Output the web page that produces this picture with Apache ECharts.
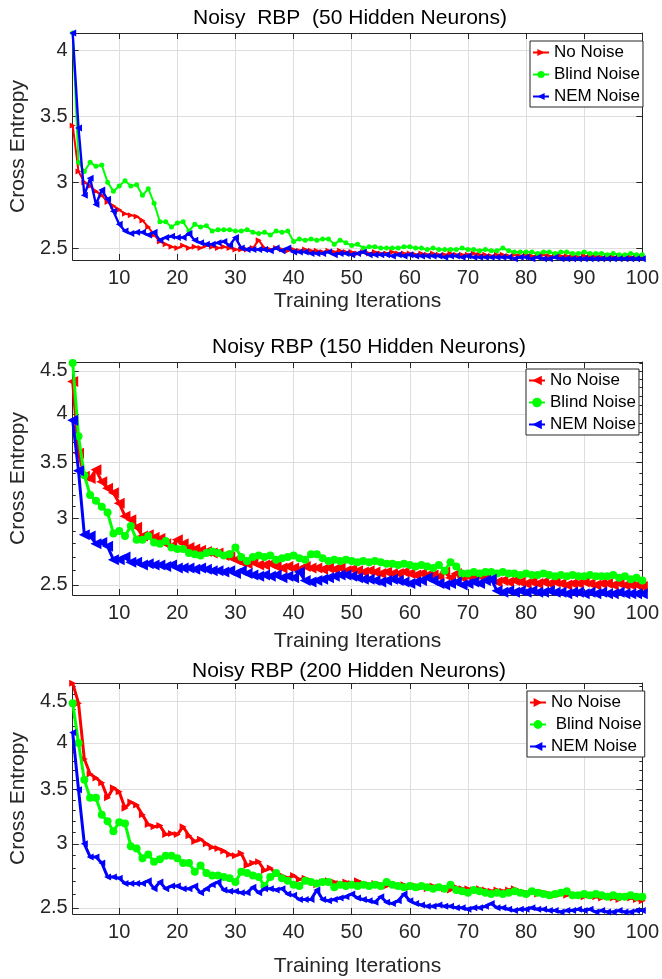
<!DOCTYPE html>
<html><head><meta charset="utf-8">
<script src="https://cdn.jsdelivr.net/npm/echarts@6/dist/echarts.min.js"></script>
<style>html,body{margin:0;padding:0;background:#fff}#c{width:662px;height:979px}</style>
</head><body><div id="c"></div><script>
// ---------- data ----------
const iterations = Array.from({length: 99}, (_, i) => i + 2); // training iterations 2..100

const noNoise50 = [3.43,3.08,3.00,2.97,2.93,2.90,2.85,2.82,2.79,2.76,
 2.75,2.74,2.71,2.66,2.60,2.55,2.53,2.51,2.50,2.52,
 2.50,2.51,2.50,2.52,2.51,2.50,2.51,2.50,2.49,2.49,
 2.49,2.50,2.56,2.50,2.49,2.50,2.49,2.48,2.49,2.48,
 2.49,2.48,2.48,2.47,2.48,2.47,2.48,2.47,2.47,2.46,
 2.47,2.46,2.47,2.46,2.46,2.47,2.46,2.46,2.46,2.45,
 2.46,2.45,2.46,2.45,2.45,2.46,2.45,2.45,2.45,2.46,
 2.45,2.45,2.44,2.45,2.45,2.44,2.45,2.44,2.45,2.44,
 2.44,2.45,2.44,2.44,2.44,2.44,2.44,2.43,2.44,2.44,
 2.44,2.43,2.44,2.43,2.44,2.43,2.43,2.43,2.43];
const blindNoise50 = [4.13,3.15,3.08,3.15,3.12,3.13,3.00,2.93,2.97,3.01,
 2.97,2.98,2.90,2.95,2.84,2.70,2.70,2.66,2.69,2.70,
 2.63,2.68,2.66,2.67,2.63,2.64,2.64,2.64,2.63,2.63,
 2.64,2.62,2.61,2.62,2.60,2.63,2.62,2.63,2.55,2.57,
 2.56,2.57,2.56,2.57,2.57,2.53,2.56,2.54,2.52,2.53,
 2.50,2.51,2.51,2.50,2.50,2.50,2.50,2.51,2.51,2.50,
 2.50,2.49,2.50,2.49,2.49,2.49,2.49,2.50,2.49,2.49,
 2.48,2.49,2.48,2.48,2.50,2.48,2.47,2.47,2.47,2.47,
 2.46,2.47,2.47,2.46,2.47,2.47,2.46,2.46,2.47,2.46,
 2.46,2.46,2.45,2.46,2.45,2.45,2.46,2.45,2.45];
const nemNoise50 = [4.13,3.41,2.90,3.03,2.83,2.94,2.87,2.78,2.68,2.63,
 2.61,2.62,2.62,2.60,2.62,2.56,2.58,2.59,2.58,2.58,
 2.61,2.56,2.54,2.53,2.53,2.54,2.55,2.52,2.58,2.50,
 2.49,2.49,2.49,2.49,2.48,2.50,2.48,2.50,2.47,2.47,
 2.47,2.46,2.46,2.46,2.47,2.45,2.46,2.46,2.45,2.46,
 2.47,2.45,2.45,2.45,2.45,2.44,2.45,2.44,2.45,2.44,
 2.44,2.44,2.44,2.44,2.43,2.44,2.44,2.43,2.44,2.43,
 2.43,2.43,2.43,2.43,2.43,2.43,2.42,2.43,2.43,2.42,
 2.43,2.42,2.42,2.43,2.42,2.42,2.42,2.42,2.42,2.42,
 2.42,2.42,2.42,2.42,2.42,2.42,2.42,2.42,2.42];

const noNoise150 = [4.37,3.59,3.37,3.35,3.43,3.32,3.26,3.22,3.13,3.02,
 2.99,2.93,2.86,2.87,2.85,2.84,2.80,2.78,2.83,2.80,
 2.77,2.76,2.75,2.74,2.73,2.73,2.71,2.70,2.68,2.66,
 2.65,2.66,2.64,2.64,2.65,2.63,2.62,2.63,2.62,2.61,
 2.63,2.62,2.62,2.61,2.62,2.61,2.62,2.60,2.61,2.60,
 2.59,2.60,2.59,2.58,2.59,2.58,2.58,2.59,2.58,2.57,
 2.58,2.57,2.57,2.56,2.59,2.55,2.58,2.55,2.56,2.55,
 2.56,2.55,2.54,2.52,2.53,2.52,2.53,2.52,2.51,2.52,
 2.51,2.52,2.51,2.52,2.51,2.50,2.51,2.51,2.52,2.51,
 2.50,2.51,2.51,2.50,2.51,2.50,2.50,2.50,2.49];
const blindNoise150 = [4.60,3.76,3.38,3.20,3.15,3.10,3.05,2.88,2.90,2.86,
 2.94,2.83,2.83,2.86,2.81,2.80,2.82,2.77,2.76,2.76,
 2.73,2.72,2.71,2.73,2.74,2.73,2.71,2.72,2.77,2.70,
 2.67,2.70,2.71,2.70,2.71,2.68,2.69,2.70,2.71,2.69,
 2.68,2.72,2.72,2.69,2.67,2.68,2.67,2.68,2.67,2.66,
 2.67,2.66,2.67,2.66,2.65,2.65,2.64,2.65,2.64,2.63,
 2.64,2.63,2.62,2.64,2.60,2.66,2.63,2.58,2.58,2.59,
 2.58,2.59,2.59,2.58,2.59,2.58,2.58,2.57,2.58,2.57,
 2.57,2.58,2.57,2.56,2.57,2.56,2.57,2.56,2.56,2.57,
 2.56,2.56,2.56,2.57,2.55,2.56,2.54,2.55,2.53];
const nemNoise150 = [3.93,3.42,2.87,2.86,2.80,2.81,2.78,2.68,2.68,2.70,
 2.66,2.66,2.64,2.65,2.64,2.64,2.63,2.64,2.62,2.62,
 2.62,2.61,2.62,2.61,2.60,2.60,2.59,2.60,2.58,2.60,
 2.58,2.57,2.56,2.57,2.56,2.57,2.55,2.56,2.55,2.59,
 2.53,2.52,2.53,2.54,2.55,2.56,2.57,2.57,2.56,2.55,
 2.54,2.54,2.53,2.52,2.53,2.54,2.53,2.52,2.51,2.52,
 2.53,2.55,2.53,2.51,2.50,2.51,2.52,2.50,2.51,2.52,
 2.51,2.53,2.54,2.46,2.45,2.46,2.45,2.46,2.45,2.46,
 2.45,2.45,2.46,2.45,2.45,2.44,2.45,2.45,2.44,2.45,
 2.44,2.45,2.44,2.44,2.45,2.44,2.44,2.44,2.44];

const noNoise200 = [4.74,4.48,3.82,3.66,3.62,3.57,3.42,3.52,3.48,3.32,
 3.38,3.35,3.26,3.17,3.15,3.16,3.08,3.09,3.08,3.15,
 3.07,3.02,3.04,3.00,2.97,2.96,2.94,2.91,2.90,2.92,
 2.82,2.84,2.85,2.78,2.80,2.75,2.74,2.72,2.74,2.71,
 2.72,2.70,2.67,2.69,2.70,2.69,2.68,2.69,2.68,2.70,
 2.68,2.67,2.68,2.67,2.66,2.68,2.66,2.67,2.65,2.66,
 2.65,2.64,2.66,2.65,2.64,2.63,2.65,2.64,2.64,2.63,
 2.64,2.63,2.62,2.63,2.62,2.63,2.64,2.62,2.61,2.61,
 2.60,2.61,2.60,2.59,2.60,2.59,2.60,2.59,2.58,2.59,
 2.58,2.57,2.58,2.57,2.56,2.58,2.57,2.56,2.55];
const blindNoise200 = [4.48,4.00,3.60,3.42,3.42,3.26,3.20,3.11,3.19,3.18,
 2.98,2.96,2.88,2.91,2.85,2.87,2.90,2.90,2.88,2.84,
 2.84,2.77,2.82,2.76,2.74,2.74,2.73,2.72,2.69,2.77,
 2.76,2.74,2.73,2.66,2.73,2.76,2.72,2.70,2.67,2.66,
 2.70,2.69,2.68,2.69,2.69,2.65,2.67,2.66,2.67,2.66,
 2.67,2.66,2.67,2.66,2.69,2.67,2.66,2.65,2.66,2.65,
 2.66,2.65,2.64,2.65,2.64,2.67,2.63,2.62,2.61,2.63,
 2.62,2.61,2.60,2.61,2.60,2.61,2.62,2.61,2.60,2.62,
 2.61,2.60,2.59,2.60,2.61,2.62,2.59,2.59,2.60,2.59,
 2.60,2.59,2.58,2.59,2.58,2.58,2.59,2.58,2.58];
const nemNoise200 = [4.12,3.50,3.00,2.89,2.89,2.84,2.73,2.73,2.72,2.68,
 2.68,2.68,2.68,2.70,2.64,2.69,2.64,2.66,2.66,2.64,
 2.64,2.66,2.61,2.64,2.67,2.69,2.63,2.62,2.62,2.61,
 2.61,2.65,2.61,2.64,2.64,2.63,2.64,2.60,2.59,2.56,
 2.56,2.56,2.63,2.56,2.55,2.56,2.57,2.58,2.60,2.57,
 2.56,2.55,2.54,2.58,2.54,2.53,2.55,2.60,2.55,2.53,
 2.52,2.51,2.51,2.52,2.51,2.51,2.50,2.50,2.49,2.50,
 2.50,2.51,2.53,2.50,2.50,2.49,2.48,2.49,2.49,2.50,
 2.49,2.49,2.48,2.48,2.47,2.48,2.48,2.49,2.48,2.49,
 2.47,2.48,2.47,2.47,2.48,2.47,2.47,2.48,2.48];

const xTickValues = [10,20,30,40,50,60,70,80,90,100];
const yTicks50 = [2.5,3,3.5,4];
const yTicksLog = [2.5,3,3.5,4,4.5];
const yMinorLog = [2.5,2.6,2.7,2.8,2.9,3.0,3.1,3.2,3.3,3.4,3.5,3.6,3.7,3.8,3.9,4.0,4.1,4.2,4.3,4.4,4.5,4.6,4.7];
const titles = ['Noisy  RBP  (50 Hidden Neurons)', 'Noisy RBP (150 Hidden Neurons)', 'Noisy RBP (200 Hidden Neurons)'];
const seriesNames = [
  ['No Noise', 'Blind Noise', 'NEM Noise'],
  ['No Noise ', 'Blind Noise ', 'NEM Noise '],
  ['No Noise  ', ' Blind Noise', 'NEM Noise  ']
];
const seriesValues = [
  [noNoise50, blindNoise50, nemNoise50],
  [noNoise150, blindNoise150, nemNoise150],
  [noNoise200, blindNoise200, nemNoise200]
];
const xAxisName = 'Training Iterations';
const yAxisName = 'Cross Entropy';

// ---------- layout / style ----------
const FONT = 'Liberation Sans, Arial, Helvetica, sans-serif';
const AX = '#262626';
const GRIDC = '#dedede';
const COLORS = ['#ff0000', '#00ff00', '#0000ff'];
const panels = [
  {grid: {left: 64, top: 33, width: 582, height: 227}, log: false, ymin: 2.41, ymax: 4.13, yTicks: yTicks50,
   titleX: 350, titleY: 8, legend: {left: 530, top: 41, ih: 9}, xGap: 31, yGap: 36,
   marks: [{s: 'triangle', r: -90, z: 6, w: 2}, {s: 'circle', r: 0, z: 5, w: 2}, {s: 'triangle', r: 90, z: 7, w: 2.4}]},
  {grid: {left: 71, top: 362, width: 573, height: 233}, log: true, ymin: 2.432, ymax: 4.612, yTicks: yTicksLog,
   titleX: 369, titleY: 337, legend: {left: 526, top: 369, ih: 12}, xGap: 36, yGap: 36,
   marks: [{s: 'triangle', r: 90, z: 11, w: 3}, {s: 'circle', r: 0, z: 8, w: 3}, {s: 'triangle', r: 90, z: 11, w: 3}]},
  {grid: {left: 62, top: 683, width: 586, height: 231}, log: true, ymin: 2.456, ymax: 4.745, yTicks: yTicksLog,
   titleX: 349, titleY: 661, legend: {left: 527, top: 691, ih: 11}, xGap: 42, yGap: 34,
   marks: [{s: 'triangle', r: -90, z: 7, w: 3}, {s: 'circle', r: 0, z: 8, w: 3}, {s: 'triangle', r: 90, z: 7, w: 3}]}
];

const option = {
  animation: false,
  backgroundColor: '#fff',
  title: [], grid: [], xAxis: [], yAxis: [], legend: [], series: []
};

panels.forEach((p, pi) => {
  const tf = p.log ? Math.log : (v => v);
  option.grid.push(Object.assign({containLabel: false}, p.grid));
  option.title.push({
    text: titles[pi], left: p.titleX, top: p.titleY, textAlign: 'center', padding: 0,
    textStyle: {fontFamily: FONT, fontSize: 21, fontWeight: 'normal', color: '#000'}
  });
  const xb = option.xAxis.length;
  const xBase = {type: 'value', gridIndex: pi, min: 2, max: 100};
  option.xAxis.push(Object.assign({}, xBase, {
    position: 'bottom', name: xAxisName, nameLocation: 'middle', nameGap: p.xGap,
    nameTextStyle: {fontFamily: FONT, fontSize: 21, color: AX},
    axisLine: {show: true, onZero: false, lineStyle: {color: AX, width: 1}},
    axisTick: {show: true, inside: true, length: 6, customValues: xTickValues, lineStyle: {color: AX}},
    axisLabel: {show: true, customValues: xTickValues, margin: 8, fontFamily: FONT, fontSize: 20, color: AX},
    splitLine: {show: true, lineStyle: {color: GRIDC, width: 1}}
  }));
  option.xAxis.push(Object.assign({}, xBase, {
    position: 'top',
    axisLine: {show: true, onZero: false, lineStyle: {color: AX, width: 1}},
    axisTick: {show: true, inside: true, length: 6, customValues: xTickValues, lineStyle: {color: AX}},
    axisLabel: {show: false}, splitLine: {show: false}
  }));
  const yb = option.yAxis.length;
  const ymin = tf(p.ymin), ymax = tf(p.ymax);
  const major = p.yTicks.map(tf);
  const yBase = {type: 'value', gridIndex: pi, min: ymin, max: ymax};
  option.yAxis.push(Object.assign({}, yBase, {
    position: 'left', name: yAxisName, nameLocation: 'middle', nameGap: p.yGap,
    nameTextStyle: {fontFamily: FONT, fontSize: 21, color: AX},
    axisLine: {show: true, onZero: false, lineStyle: {color: AX, width: 1}},
    axisTick: {show: true, inside: true, length: 6, customValues: major, lineStyle: {color: AX}},
    axisLabel: {show: true, customValues: major, margin: 5, fontFamily: FONT, fontSize: 20, color: AX,
      formatter: v => String(Math.round((p.log ? Math.exp(v) : v) * 10) / 10)},
    splitLine: {show: true, lineStyle: {color: GRIDC, width: 1}}
  }));
  option.yAxis.push(Object.assign({}, yBase, {
    position: 'right',
    axisLine: {show: true, onZero: false, lineStyle: {color: AX, width: 1}},
    axisTick: {show: true, inside: true, length: 6, customValues: major, lineStyle: {color: AX}},
    axisLabel: {show: false}, splitLine: {show: false}
  }));
  if (p.log) {
    const minor = yMinorLog.map(tf);
    ['left', 'right'].forEach(pos => option.yAxis.push(Object.assign({}, yBase, {
      position: pos, axisLine: {show: false, onZero: false},
      axisTick: {show: true, inside: true, length: 3, customValues: minor, lineStyle: {color: AX}},
      axisLabel: {show: false}, splitLine: {show: false}
    })));
  }
  const names = seriesNames[pi];
  option.legend.push({
    data: names, left: p.legend.left, top: p.legend.top, orient: 'vertical',
    backgroundColor: '#fff', borderColor: AX, borderWidth: 1, borderRadius: 0,
    padding: [3, 3, 2, 2], itemGap: 5, itemWidth: 16, itemHeight: p.legend.ih,
    formatter: n => n.replace(/\s+$/, ''),
    textStyle: {fontFamily: FONT, fontSize: 17, color: '#000'}
  });
  seriesValues[pi].forEach((vals, si) => {
    const m = p.marks[si];
    option.series.push({
      type: 'line', name: names[si], xAxisIndex: xb, yAxisIndex: yb,
      data: vals.map((v, i) => [iterations[i], tf(v)]),
      symbol: m.s, symbolRotate: m.r, symbolSize: m.z, showSymbol: true,
      lineStyle: {color: COLORS[si], width: m.w},
      itemStyle: {color: COLORS[si], borderWidth: 0},
      emphasis: {disabled: true}, z: 2 + si
    });
  });
});

const chart = echarts.init(document.getElementById('c'), null, {renderer: 'canvas'});
chart.setOption(option);
</script></body></html>
